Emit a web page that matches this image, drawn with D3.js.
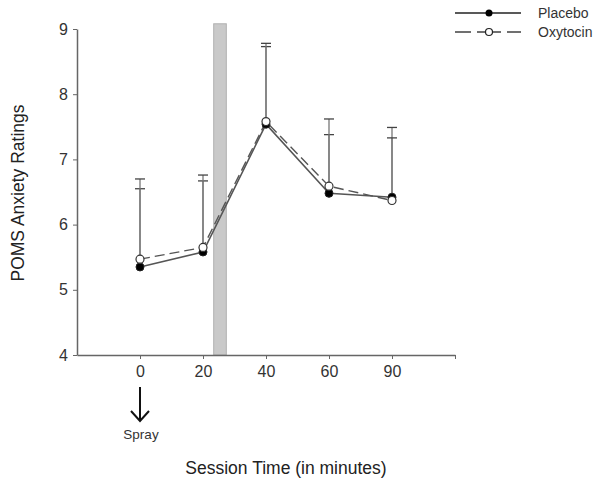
<!DOCTYPE html>
<html><head><meta charset="utf-8">
<script src="https://cdnjs.cloudflare.com/ajax/libs/d3/7.8.5/d3.min.js"></script>
<style>html,body{margin:0;padding:0;background:#fff}svg{display:block;font-family:Arial,"Liberation Sans",sans-serif}</style>
</head><body>
<svg id="chart" width="602" height="488"></svg>
<script>
const timeLabels = ["0", "20", "40", "60", "90"];
const placebo = [5.35, 5.58, 7.54, 6.48, 6.42];
const oxytocin = [5.47, 5.65, 7.58, 6.59, 6.37];
const placeboUpper = [6.55, 6.67, 8.73, 7.38, 7.49];
const oxytocinUpper = [6.70, 6.76, 8.78, 7.62, 7.33];
const yTicks = [4, 5, 6, 7, 8, 9];
const shade = [1.17, 1.37]; // in category-index units (between 20 and 40 min)

const svg = d3.select("#chart");
const x = d3.scaleLinear().domain([-1, 5]).range([77, 455]);
const y = d3.scaleLinear().domain([4, 9]).range([355, 29]);
const axisCol = "#666";
const FONT = "Arial,'Liberation Sans',sans-serif";

// shaded bar
svg.append("rect")
  .attr("x", x(shade[0])).attr("y", y(9.08))
  .attr("width", x(shade[1]) - x(shade[0])).attr("height", y(4) - y(9.08))
  .attr("fill", "#c9c9c9").attr("stroke", "#b0b0b0").attr("stroke-width", 1);

// axes
const yAxis = d3.axisLeft(y).tickValues(yTicks).tickFormat(d3.format("d")).tickSize(4).tickSizeOuter(0);
const gy = svg.append("g").attr("transform", `translate(${x(-1)},0)`).call(yAxis);
gy.select(".domain").attr("stroke", axisCol).attr("stroke-width", 1.5);
gy.selectAll(".tick line").attr("stroke", axisCol);
gy.selectAll(".tick text").attr("font-size", 16).attr("fill", "#333").attr("x", -9).attr("font-family", FONT);

const xAxis = d3.axisBottom(x).tickValues([0, 1, 2, 3, 4, 5])
  .tickFormat(i => timeLabels[i] || "").tickSize(4).tickSizeOuter(0);
const gx = svg.append("g").attr("transform", `translate(0,${y(4)})`).call(xAxis);
gx.select(".domain").attr("stroke", axisCol).attr("stroke-width", 1.5);
gx.selectAll(".tick line").attr("stroke", axisCol);
gx.selectAll(".tick text").attr("font-size", 16).attr("fill", "#333").attr("y", 11).attr("font-family", FONT);

// error bars
function errBars(vals, ups) {
  const g = svg.append("g").attr("stroke", "#777").attr("stroke-width", 1.3);
  vals.forEach((v, i) => {
    g.append("line").attr("x1", x(i)).attr("x2", x(i)).attr("y1", y(v)).attr("y2", y(ups[i]));
    g.append("line").attr("x1", x(i) - 5).attr("x2", x(i) + 5).attr("y1", y(ups[i])).attr("y2", y(ups[i])).attr("stroke", "#444");
  });
}
errBars(placebo, placeboUpper);
errBars(oxytocin, oxytocinUpper);

const line = d3.line().x((d, i) => x(i)).y(d => y(d));
svg.append("path").datum(placebo).attr("d", line).attr("fill", "none").attr("stroke", "#555").attr("stroke-width", 1.6);
svg.append("path").datum(oxytocin).attr("d", line).attr("fill", "none").attr("stroke", "#555").attr("stroke-width", 1.4).attr("stroke-dasharray", "10,5");

svg.append("g").selectAll("circle").data(placebo).join("circle")
  .attr("cx", (d, i) => x(i)).attr("cy", d => y(d)).attr("r", 4).attr("fill", "#000").attr("stroke", "#222");
svg.append("g").selectAll("circle").data(oxytocin).join("circle")
  .attr("cx", (d, i) => x(i)).attr("cy", d => y(d)).attr("r", 4).attr("fill", "#fff").attr("stroke", "#333").attr("stroke-width", 1.2);

// legend
const lg = svg.append("g");
lg.append("line").attr("x1", 455).attr("x2", 521).attr("y1", 13).attr("y2", 13).attr("stroke", "#222").attr("stroke-width", 1.3);
lg.append("circle").attr("cx", 489).attr("cy", 13).attr("r", 3.5).attr("fill", "#000");
lg.append("text").attr("x", 538).attr("y", 18).text("Placebo").attr("font-size", 14).attr("fill", "#333");
[[455, 471], [477, 485], [493, 501], [507, 521]].forEach(s => {
  lg.append("line").attr("x1", s[0]).attr("x2", s[1]).attr("y1", 32).attr("y2", 32).attr("stroke", "#222").attr("stroke-width", 1.3);
});
lg.append("circle").attr("cx", 489).attr("cy", 32).attr("r", 3.5).attr("fill", "#fff").attr("stroke", "#222").attr("stroke-width", 1.2);
lg.append("text").attr("x", 538).attr("y", 37).text("Oxytocin").attr("font-size", 14).attr("fill", "#333");

// spray arrow
const ax = x(0);
svg.append("line").attr("x1", ax).attr("x2", ax).attr("y1", 387).attr("y2", 421).attr("stroke", "#111").attr("stroke-width", 2);
svg.append("path").attr("d", `M${ax - 9},${411} L${ax},${421} L${ax + 9},${411}`).attr("fill", "none").attr("stroke", "#111").attr("stroke-width", 2);
svg.append("text").attr("x", ax + 1).attr("y", 439).attr("text-anchor", "middle").attr("font-size", 13.5).attr("fill", "#333").text("Spray");

// titles
svg.append("text").attr("x", 286).attr("y", 474).attr("text-anchor", "middle").attr("font-size", 17.5).attr("fill", "#222").text("Session Time (in minutes)");
svg.append("text").attr("transform", "translate(24,193) rotate(-90)").attr("text-anchor", "middle").attr("font-size", 17.5).attr("fill", "#222").text("POMS Anxiety Ratings");
</script>
</body></html>
